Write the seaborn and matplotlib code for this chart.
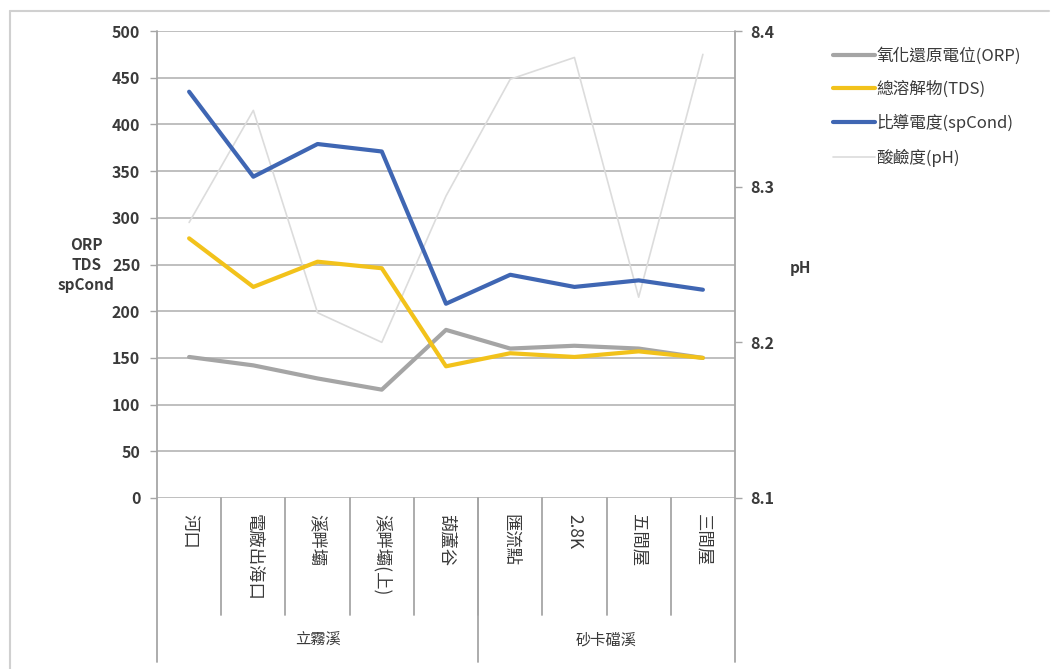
import matplotlib
matplotlib.use("Agg")
import matplotlib.pyplot as plt
import matplotlib.transforms as mtransforms
from matplotlib.lines import Line2D
import seaborn as sns
import pandas as pd

# Sampling stations and river groups
stations = ["河口", "電廠出海口", "溪畔壩", "溪畔壩(上)", "葫蘆谷",
            "匯流點", "2.8K", "五間屋", "三間屋"]
groups = ["立霧溪", "砂卡礑溪"]
group_sizes = [5, 4]

# Measurements per station
orp = [151, 142, 128, 116, 180, 160, 163, 160, 150]
tds = [278, 226, 253, 246, 141, 155, 151, 157, 150]
spcond = [435, 344, 379, 371, 208, 239, 226, 233, 223]
ph = [8.277, 8.349, 8.219, 8.200, 8.294, 8.369, 8.383, 8.229, 8.385]

series_labels = ["氧化還原電位(ORP)", "總溶解物(TDS)", "比導電度(spCond)", "酸鹼度(pH)"]
left_ticks = [0, 50, 100, 150, 200, 250, 300, 350, 400, 450, 500]
right_ticks = [8.1, 8.2, 8.3, 8.4]

sns.set_theme(style="white")
plt.rcParams["font.family"] = ["Noto Sans CJK TC", "DejaVu Sans"]

C_ORP = "#a5a5a5"
C_TDS = "#f2c21b"
C_SPC = "#3f66b3"
C_PH = "#dcdcdc"
GRID = "#bfbfbf"
AXC = "#a6a6a6"
TXT = "#3a3a3a"

W, H = 1052, 669
fig = plt.figure(figsize=(W / 100, H / 100), dpi=100)
fig.patch.set_facecolor("white")

L, R, T, B = 157, 735, 31, 498
ax = fig.add_axes([L / W, 1 - B / H, (R - L) / W, (B - T) / H])
ax2 = ax.twinx()

df = pd.DataFrame({"x": range(len(stations)), "orp": orp, "tds": tds,
                   "spcond": spcond, "ph": ph})

# pH on the secondary axis
sns.lineplot(data=df, x="x", y="ph", ax=ax2, color=C_PH, linewidth=1.2)

# Main series on the primary axis
sns.lineplot(data=df, x="x", y="orp", ax=ax, color=C_ORP, linewidth=3.0, zorder=3)
sns.lineplot(data=df, x="x", y="tds", ax=ax, color=C_TDS, linewidth=3.0, zorder=3)
sns.lineplot(data=df, x="x", y="spcond", ax=ax, color=C_SPC, linewidth=3.0, zorder=3)

# Put the pH axis behind so the thick lines sit on top
ax.set_zorder(2)
ax2.set_zorder(1)
ax.patch.set_visible(False)
ax2.patch.set_visible(False)

ax.set_xlim(-0.5, len(stations) - 0.5)
ax.set_ylim(0, 500)
ax2.set_ylim(8.1, 8.4)

# Horizontal gridlines (on the pH axis so they sit under all series)
for v in left_ticks:
    ax2.axhline(8.1 + v / 500 * 0.3, color=GRID, linewidth=1.4, zorder=0)

ax.set_yticks(left_ticks)
ax.set_yticklabels([str(v) for v in left_ticks], fontsize=11.5, fontweight="bold", color=TXT)
ax2.set_yticks(right_ticks)
ax2.set_yticklabels([f"{v:.1f}" for v in right_ticks], fontsize=11.5, fontweight="bold", color=TXT)
ax.tick_params(axis="y", length=5, width=1, color=AXC, pad=7, left=True)
ax2.tick_params(axis="y", length=5, width=1, color=AXC, pad=6, right=True)
ax.set_xticks([])
ax2.set_xticks([])
ax.set_xlabel("")
ax.set_ylabel("")
ax2.set_ylabel("")

for a in (ax, ax2):
    for s in a.spines.values():
        s.set_visible(False)

trans = mtransforms.blended_transform_factory(ax.transData, ax.transAxes)
px = 1.0 / (B - T)
y_short = -(615 - B) * px
y_long = -(662 - B) * px

# Left and right axis lines extending down through the category table
ax.plot([-0.5, -0.5], [1, y_long], transform=trans, color=AXC, lw=1.3, clip_on=False, zorder=5)
ax.plot([8.5, 8.5], [1, y_long], transform=trans, color=AXC, lw=1.3, clip_on=False, zorder=5)

# Category separators and labels
for i in range(1, len(stations)):
    ax.plot([i - 0.5, i - 0.5], [0, y_short], transform=trans, color=AXC, lw=1.3, clip_on=False)
for i, name in enumerate(stations):
    ax.text(i, -(514 - B) * px, name, transform=trans, rotation=-90,
            ha="center", va="top", fontsize=12.5, color=TXT)

# Group separators and labels
start = 0
for g, n in zip(groups, group_sizes):
    end = start + n
    if end < len(stations):
        ax.plot([end - 0.5, end - 0.5], [0, y_long], transform=trans, color=AXC, lw=1.3, clip_on=False)
    ax.text((start + end - 1) / 2, -(640 - B) * px, g, transform=trans,
            ha="center", va="center", fontsize=11, color=TXT)
    start = end

# Axis titles
fig.text(86 / W, 1 - 265 / H, "ORP\nTDS\nspCond", ha="center", va="center",
         fontsize=11, fontweight="bold", color=TXT, linespacing=1.3)
fig.text(800 / W, 1 - 268 / H, "pH", ha="center", va="center",
         fontsize=11, fontweight="bold", color=TXT)

# Legend
handles = [Line2D([], [], color=C_ORP, lw=3.0),
           Line2D([], [], color=C_TDS, lw=3.0),
           Line2D([], [], color=C_SPC, lw=3.0),
           Line2D([], [], color=C_PH, lw=1.2)]
fig.legend(handles, series_labels, loc="upper left",
           bbox_to_anchor=(818 / W, 1 - 32 / H), frameon=False,
           fontsize=12, handlelength=2.5, handletextpad=0.1,
           labelspacing=0.97, labelcolor=TXT)

# Outer chart frame
fig.add_artist(Line2D([10 / W, 10 / W], [0, 1 - 11 / H], transform=fig.transFigure,
                      color="#d0d0d0", lw=1.5))
fig.add_artist(Line2D([10 / W, 1049 / W], [1 - 11 / H, 1 - 11 / H], transform=fig.transFigure,
                      color="#d0d0d0", lw=1.5))

fig.savefig("out.png", dpi=100, facecolor="white")
